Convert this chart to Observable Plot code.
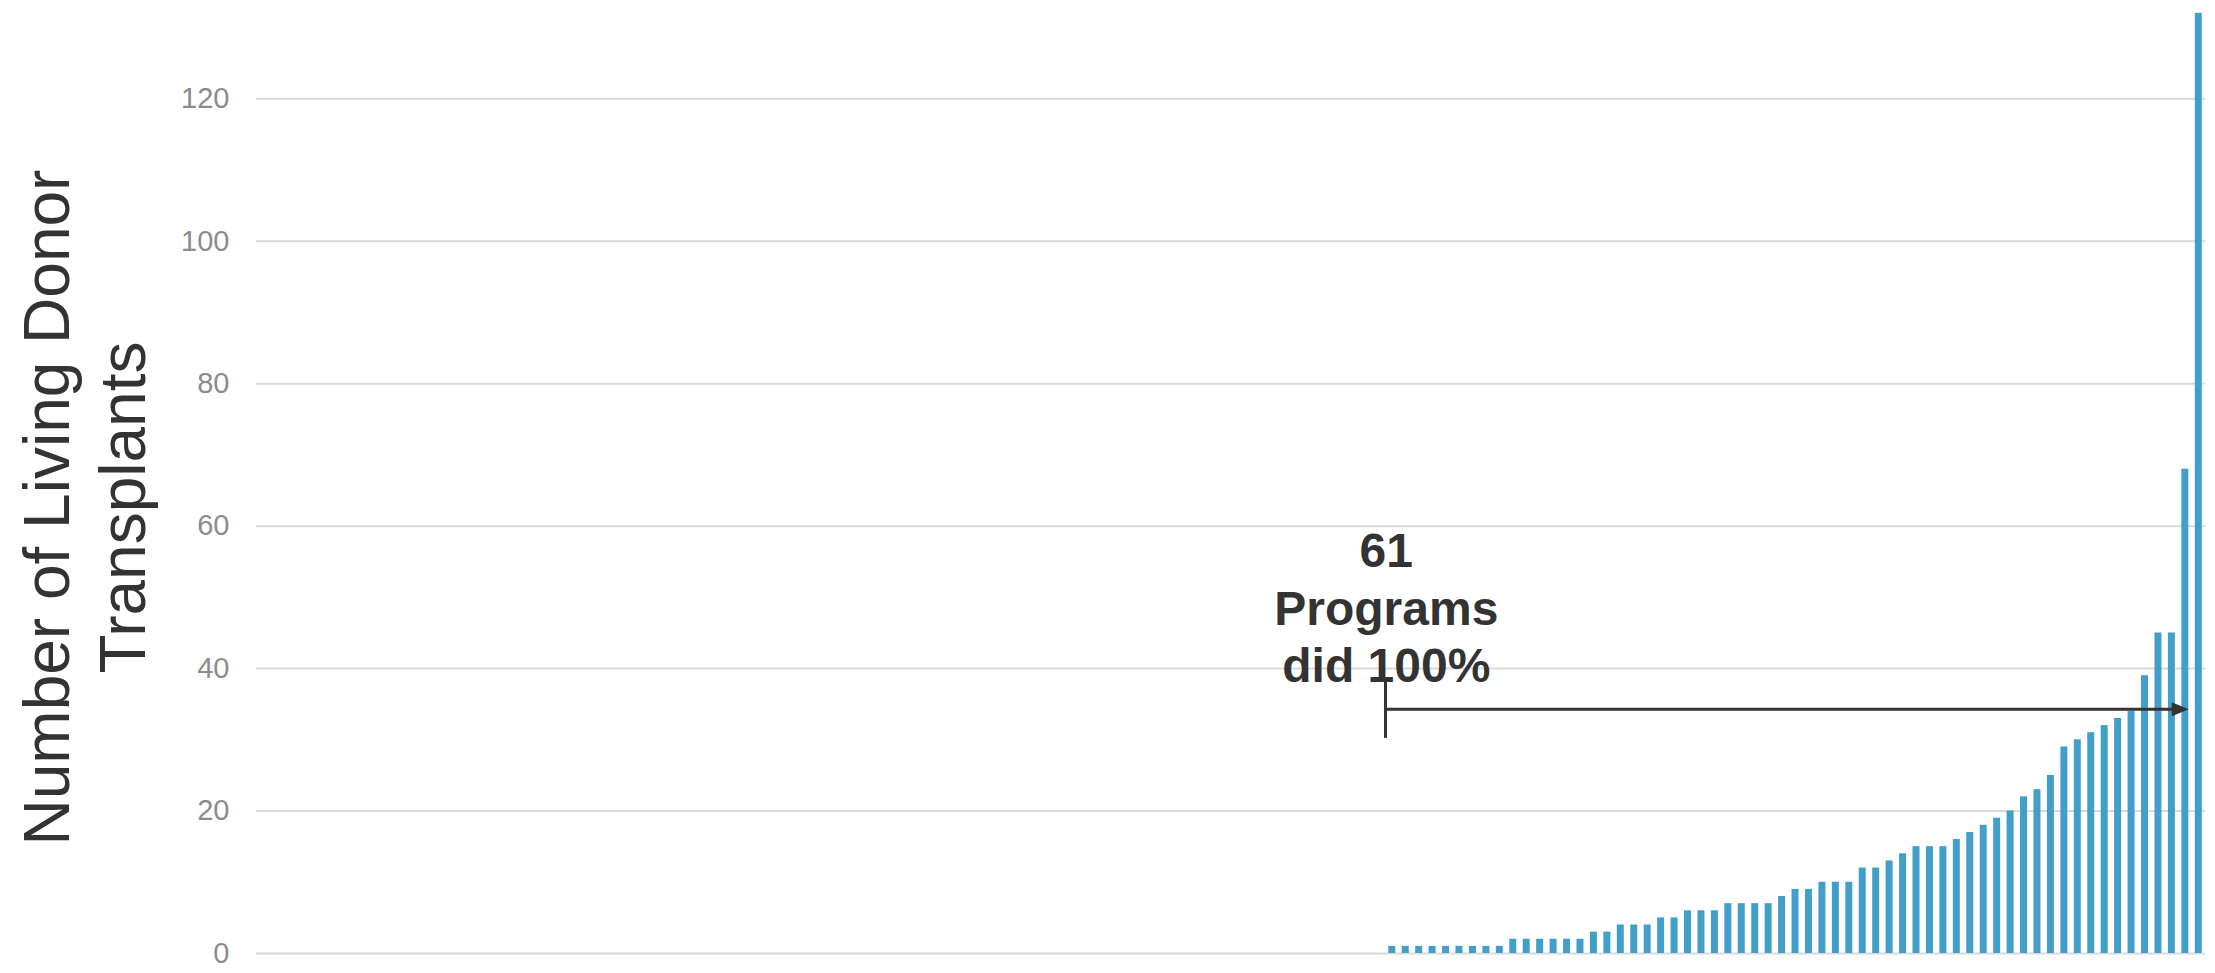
<!DOCTYPE html>
<html>
<head>
<meta charset="utf-8">
<script src="https://cdn.jsdelivr.net/npm/d3@7"></script>
<script src="https://cdn.jsdelivr.net/npm/@observablehq/plot@0.6"></script>
<style>
  html, body { margin: 0; padding: 0; background: #ffffff; }
  #chart svg { display: block; }
</style>
</head>
<body>
<div id="chart"></div>
<script>
// Living donor transplants per program, sorted ascending (programs with none first)
const transplants = [
  0,0,0,0,0,0,0,0,0,0,0,0,
  0,0,0,0,0,0,0,0,0,0,0,0,
  0,0,0,0,0,0,0,0,0,0,0,0,
  0,0,0,0,0,0,0,0,0,0,0,0,
  0,0,0,0,0,0,0,0,0,0,0,0,
  0,0,0,0,0,0,0,0,0,0,0,0,
  0,0,0,0,0,0,0,0,0,0,0,0,
  1,1,1,1,1,1,1,1,1,
  2,2,2,2,2,2,
  3,3,
  4,4,4,
  5,5,
  6,6,6,
  7,7,7,7,
  8,
  9,9,
  10,10,10,
  12,12,
  13,14,
  15,15,15,
  16,17,18,19,20,22,23,
  25,29,30,31,32,33,34,39,45,45,68,132
];
const programs = transplants.map((_, i) => i + 1);
const yTicks = [0, 20, 40, 60, 80, 100, 120];
const yLabel = "Number of Living Donor\nTransplants";
const annotationText = "61\nPrograms\ndid 100%";
const annotationY = 38.05;      // baseline of last annotation line (data units)
const arrowY = 34.3;            // arrow level (data units)
const tickRange = [30.2, 38.3]; // vertical start tick (data units)

const data = programs.map((p, i) => ({program: p, value: transplants[i]}));
const firstProgram = programs[transplants.findIndex(v => v > 0)];
const lastProgram = programs[programs.length - 1];

const arrowHead = {
  draw(ctx) {
    ctx.moveTo(0, 0);
    ctx.lineTo(-17, -7);
    ctx.lineTo(-17, 7);
    ctx.closePath();
  }
};

const chart = Plot.plot({
  width: 2215,
  height: 973,
  marginLeft: 256,
  marginRight: 10,
  marginTop: 0,
  marginBottom: 20,
  style: {fontFamily: "'Liberation Sans', Arial, sans-serif", background: "#ffffff"},
  x: {type: "band", domain: programs, paddingInner: 0.48, paddingOuter: 0.24, axis: null},
  y: {domain: [0, 133.8], axis: null},
  marks: [
    Plot.ruleY(yTicks, {stroke: "#d9d9d9", strokeWidth: 2}),
    Plot.axisY({ticks: yTicks, tickSize: 0, tickPadding: 27, fontSize: 29, color: "#8c8c8c", label: null}),
    Plot.barY(data, {x: "program", y: "value", fill: "#429fca"}),
    Plot.text([{label: yLabel}], {
      text: "label", frameAnchor: "left", rotate: -90, textAnchor: "middle",
      lineAnchor: "middle", lineHeight: 1.2, fontSize: 64, fill: "#333333",
      dx: -174, dy: 30.5
    }),
    Plot.text([{program: firstProgram, y: annotationY, label: annotationText}], {
      x: "program", y: "y", text: "label", textAnchor: "middle", lineAnchor: "bottom",
      lineHeight: 1.2, fontSize: 48, fontWeight: "bold", fill: "#333333", dx: -6
    }),
    Plot.ruleX([{program: firstProgram, y1: tickRange[0], y2: tickRange[1]}], {
      x: "program", y1: "y1", y2: "y2", stroke: "#333333", strokeWidth: 3, dx: -6.8
    }),
    Plot.arrow([{x1: firstProgram, x2: lastProgram, y: arrowY}], {
      x1: "x1", x2: "x2", y1: "y", y2: "y", bend: 0, headLength: 0,
      insetStart: -6.8, insetEnd: 20, stroke: "#333333", strokeWidth: 3
    }),
    Plot.dot([{program: lastProgram, y: arrowY}], {
      x: "program", y: "y", symbol: arrowHead, fill: "#333333", stroke: "none", dx: -10
    })
  ]
});

document.getElementById("chart").appendChild(chart);
</script>
</body>
</html>
